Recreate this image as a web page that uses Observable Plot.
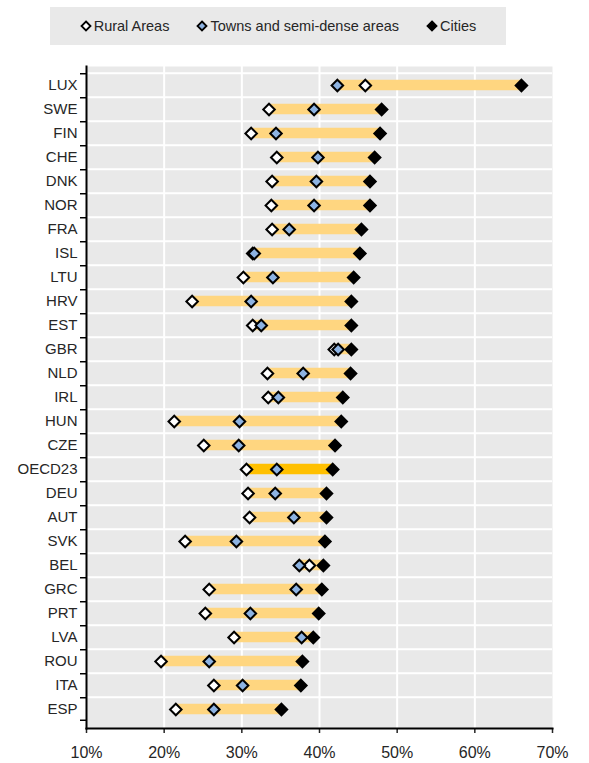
<!DOCTYPE html>
<html><head><meta charset="utf-8">
<script src="https://cdn.jsdelivr.net/npm/d3@7"></script>
<script src="https://cdn.jsdelivr.net/npm/@observablehq/plot@0.6"></script>
<style>
body{margin:0;background:#fff;font-family:"Liberation Sans",Arial,sans-serif;}
#legend{position:relative;height:52px;width:589px;}
#legend .box{position:absolute;left:50px;top:7px;width:456px;height:38px;background:#e9e9e9;display:flex;align-items:center;justify-content:center;gap:27px;font-size:14.5px;color:#262626;}
#legend .item{display:flex;align-items:center;gap:2px;}
#legend svg{display:block;}
</style>
</head><body>
<div id="legend"></div>
<div id="chart"></div>
<script>
const countries = ["LUX","SWE","FIN","CHE","DNK","NOR","FRA","ISL","LTU","HRV","EST","GBR","NLD","IRL","HUN","CZE","OECD23","DEU","AUT","SVK","BEL","GRC","PRT","LVA","ROU","ITA","ESP"];
const rural  = [45.9,33.5,31.2,34.5,33.9,33.8,33.9,31.4,30.2,23.6,31.4,41.9,33.3,33.4,21.3,25.1,30.6,30.8,31.0,22.7,38.7,25.8,25.3,29.0,19.6,26.4,21.5];
const towns  = [42.3,39.3,34.4,39.8,39.6,39.3,36.1,31.6,34.0,31.2,32.5,42.4,37.9,34.7,29.7,29.6,34.5,34.3,36.7,29.3,37.4,37.0,31.1,37.7,25.8,30.1,26.4];
const cities = [66.0,48.0,47.8,47.1,46.5,46.5,45.4,45.2,44.4,44.1,44.1,44.1,44.0,43.0,42.8,42.0,41.7,40.9,40.9,40.7,40.5,40.3,39.9,39.2,37.8,37.6,35.1];
const xTicks = [10,20,30,40,50,60,70];
const gridLines = [20,30,40,50,60];
const seriesNames = ["Rural Areas","Towns and semi-dense areas","Cities"];
const seriesFill = ["#ffffff","#8db3e2","#000000"];

const table = countries.map((c,i)=>({
  country:c, rural:rural[i], towns:towns[i], cities:cities[i],
  lo:Math.min(rural[i],towns[i],cities[i]), hi:Math.max(rural[i],towns[i],cities[i])
}));

// legend
const lg = document.createElement("div"); lg.className="box";
seriesNames.forEach((n,i)=>{
  const it=document.createElement("div"); it.className="item";
  it.innerHTML = `<svg width="12" height="12" viewBox="-6 -6 12 12"><path d="M0,-4.5L4.5,0L0,4.5L-4.5,0Z" fill="${seriesFill[i]}" stroke="#000" stroke-width="1.8"/></svg><span>${n}</span>`;
  lg.appendChild(it);
});
document.getElementById("legend").appendChild(lg);

const W=589, H=711, mt=14, mb=35, ml=86, mr=37;
const step=(H-mt-mb)/countries.length;
const barInset=(step-11)/2;
const xMin=xTicks[0], xMax=xTicks[xTicks.length-1];
const tickLen=6*(xMax-xMin)/(W-ml-mr);

const chart = Plot.plot({
  width:W, height:H, marginTop:mt, marginBottom:mb, marginLeft:ml, marginRight:mr,
  style:{fontFamily:'"Liberation Sans",Arial,sans-serif', color:"#262626", background:"#fff", overflow:"visible"},
  x:{domain:[xMin,xMax], axis:null, label:null},
  y:{domain:countries, padding:0, axis:null, label:null},
  marks:[
    Plot.frame({fill:"#e9e9e9"}),
    Plot.ruleY(countries,{y:d=>d, dy:-step/2, stroke:"#fff", strokeWidth:2}),
    Plot.ruleX(gridLines,{stroke:"#fff", strokeWidth:2}),
    Plot.barX(table,{y:"country", x1:"lo", x2:"hi", fill:d=>d.country==="OECD23"?"#ffc000":"#ffd680", insetTop:barInset, insetBottom:barInset}),
    Plot.dot(table,{x:"rural", y:"country", symbol:"diamond2", r:5.2, fill:seriesFill[0], stroke:"#000", strokeWidth:2}),
    Plot.dot(table,{x:"towns", y:"country", symbol:"diamond2", r:5.2, fill:seriesFill[1], stroke:"#000", strokeWidth:2}),
    Plot.dot(table,{x:"cities", y:"country", symbol:"diamond2", r:5.2, fill:seriesFill[2], stroke:"#000", strokeWidth:2}),
    Plot.axisX({ticks:xTicks, tickFormat:d=>d+"%", tickSize:5, tickPadding:13, fontSize:16, strokeWidth:1.5, label:null}),
    Plot.axisY({tickSize:0, tickPadding:9, fontSize:15, label:null}),
    // category boundary ticks on the left axis: thin bars along the top edge of each band, plus the bottom edge of the last
    Plot.barX(countries,{y:d=>d, x1:xMin-tickLen, x2:xMin, fill:"#000", insetTop:0, insetBottom:step-2}),
    Plot.barX(countries.slice(-1),{y:d=>d, x1:xMin-tickLen, x2:xMin, fill:"#000", insetTop:step-2, insetBottom:0}),
    Plot.frame({anchor:"left", stroke:"#000", strokeWidth:2}),
    Plot.frame({anchor:"bottom", stroke:"#000", strokeWidth:2})
  ]
});
document.getElementById("chart").appendChild(chart);
</script>
</body></html>
